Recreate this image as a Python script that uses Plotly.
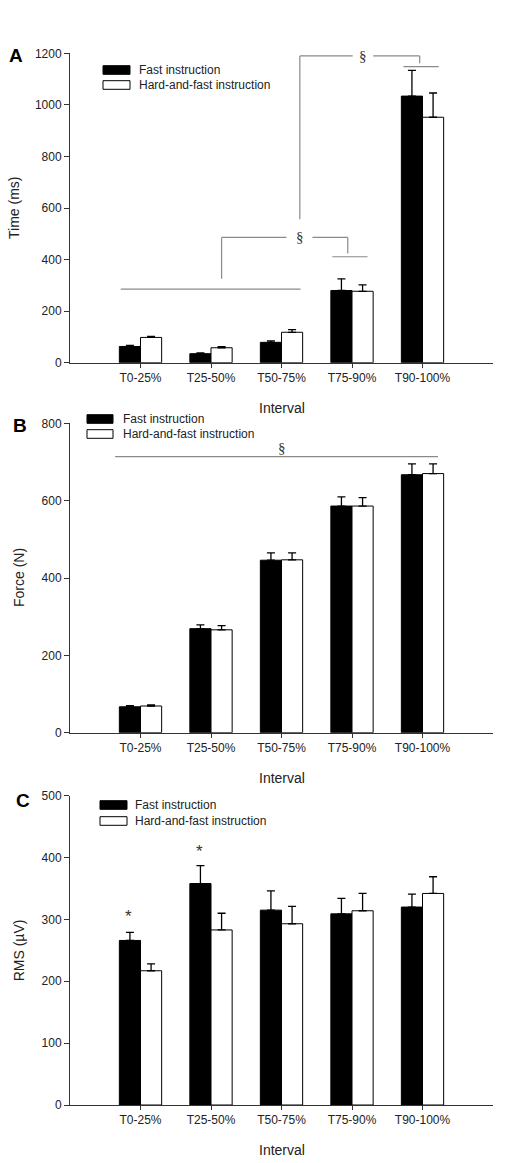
import plotly.graph_objects as go

# ---------------- data ----------------
categories = ["T0-25%", "T25-50%", "T50-75%", "T75-90%", "T90-100%"]
series_names = ["Fast instruction", "Hard-and-fast instruction"]

time_fast = [63, 35, 79, 280, 1034]
time_fast_err = [4, 3, 6, 45, 100]
time_hf = [98, 58, 118, 277, 952]
time_hf_err = [4, 4, 10, 25, 94]

force_fast = [67, 269, 446, 586, 667]
force_fast_err = [3, 10, 19, 24, 28]
force_hf = [69, 266, 447, 586, 670]
force_hf_err = [3, 11, 18, 22, 25]

rms_fast = [266, 358, 315, 309, 320]
rms_fast_err = [13, 29, 31, 25, 21]
rms_hf = [217, 283, 293, 314, 342]
rms_hf_err = [11, 27, 28, 28, 27]

panel_letters = ["A", "B", "C"]
y_titles = ["Time (ms)", "Force (N)", "RMS (µV)"]
x_title = "Interval"
y_ranges = [[0, 1200], [0, 800], [0, 500]]
y_dticks = [200, 200, 100]

W, H = 529, 1163
FONT = "Arial, Liberation Sans, sans-serif"
SERIF = "Times New Roman, Liberation Serif, serif"
AX = "#333333"
GRAY = "#8a8a8a"


def px(x):
    return x / W


def py(y):
    return 1 - y / H


# plot areas in pixels (top, bottom)
areas = [(53.3, 362.7), (423.3, 732.7), (795.7, 1105.0)]
x_left, x_right = 70, 493

fig = go.Figure()

panels = [
    (time_fast, time_fast_err, time_hf, time_hf_err),
    (force_fast, force_fast_err, force_hf, force_hf_err),
    (rms_fast, rms_fast_err, rms_hf, rms_hf_err),
]

for i, (f, fe, h, he) in enumerate(panels):
    xa = "x" if i == 0 else f"x{i+1}"
    ya = "y" if i == 0 else f"y{i+1}"
    fig.add_trace(go.Bar(
        x=categories, y=f, name=series_names[0], xaxis=xa, yaxis=ya,
        marker=dict(color="black", line=dict(color="black", width=1)),
        error_y=dict(type="data", symmetric=False, array=fe, arrayminus=[0] * len(fe),
                     color="black", thickness=1.3, width=4),
        showlegend=False, offsetgroup="a",
    ))
    fig.add_trace(go.Bar(
        x=categories, y=h, name=series_names[1], xaxis=xa, yaxis=ya,
        marker=dict(color="white", line=dict(color="black", width=1)),
        error_y=dict(type="data", symmetric=False, array=he, arrayminus=[0] * len(he),
                     color="black", thickness=1.3, width=4),
        showlegend=False, offsetgroup="b",
    ))

layout = dict(
    template="none",
    width=W, height=H,
    margin=dict(l=0, r=0, t=0, b=0, pad=0),
    paper_bgcolor="white", plot_bgcolor="white",
    barmode="group", bargap=0.4, bargroupgap=0,
    font=dict(family=FONT, size=12, color="#222222"),
    showlegend=False,
)

annotations = []
shapes = []

for i in range(3):
    top, bot = areas[i]
    xk = "xaxis" if i == 0 else f"xaxis{i+1}"
    yk = "yaxis" if i == 0 else f"yaxis{i+1}"
    yname = "y" if i == 0 else f"y{i+1}"
    xname = "x" if i == 0 else f"x{i+1}"
    layout[xk] = dict(
        domain=[px(x_left), px(x_right)], anchor=yname, automargin=False,
        type="category", categoryorder="array", categoryarray=categories,
        range=[-1, 5], showline=True, linecolor=AX, linewidth=1,
        ticks="outside", ticklen=4, tickcolor=AX, showgrid=False, zeroline=False,
        tickfont=dict(size=12, color="#222222"),
    )
    layout[yk] = dict(
        domain=[py(bot), py(top)], anchor=xname, automargin=False,
        range=y_ranges[i], dtick=y_dticks[i], tick0=0,
        showline=True, linecolor=AX, linewidth=1,
        ticks="outside", ticklen=5, tickcolor=AX, showgrid=False, zeroline=False,
        tickfont=dict(size=12, color="#222222"),
    )
    # x title
    annotations.append(dict(x=px((x_left + x_right) / 2), y=py(bot + 45),
                            xref="paper", yref="paper", text=x_title, showarrow=False,
                            font=dict(size=14, color="#222222"), xanchor="center", yanchor="middle"))
    # y title
    annotations.append(dict(x=px(14 if i == 0 else 19), y=py((top + bot) / 2),
                            xref="paper", yref="paper", text=y_titles[i], showarrow=False,
                            textangle=-90, font=dict(size=14, color="#222222"),
                            xanchor="center", yanchor="middle"))
    # panel letter
    letter_pos = [(16, 55), (20, 425), (23, 800)][i]
    annotations.append(dict(x=px(letter_pos[0]), y=py(letter_pos[1]), xref="paper", yref="paper",
                            text=f"<b>{panel_letters[i]}</b>", showarrow=False,
                            font=dict(size=19, color="black"), xanchor="center", yanchor="middle"))

# manual legends (box x0, x1, row centers, text x)
legend_specs = [
    (103, 130, 70, 85, 137),
    (87, 113, 419, 434, 121),
    (100, 127, 805, 821, 133),
]
for (bx0, bx1, r1, r2, tx) in legend_specs:
    for rc, fill, name in ((r1, "black", series_names[0]), (r2, "white", series_names[1])):
        shapes.append(dict(type="rect", xref="paper", yref="paper",
                           x0=px(bx0), x1=px(bx1), y0=py(rc + 4.3), y1=py(rc - 4.3),
                           fillcolor=fill, line=dict(color="black", width=1)))
        annotations.append(dict(x=px(tx), y=py(rc), xref="paper", yref="paper", text=name,
                                showarrow=False, xanchor="left", yanchor="middle",
                                font=dict(size=12, color="#222222")))


def seg(xr, yr, x0, y0, x1, y1):
    shapes.append(dict(type="line", xref=xr, yref=yr, x0=x0, y0=y0, x1=x1, y1=y1,
                       line=dict(color=GRAY, width=1.2)))


# Panel A brackets
seg("x", "y", -0.28, 285, 2.27, 285)
seg("x", "y", 1.15, 326, 1.15, 486)
seg("x", "y", 1.15, 486, 2.07, 486)
seg("x", "y", 2.44, 486, 2.94, 486)
seg("x", "y", 2.94, 486, 2.94, 424)
seg("x", "y", 2.72, 411, 3.22, 411)
annotations.append(dict(x=2.26, y=486, xref="x", yref="y", text="§", showarrow=False,
                        font=dict(family=SERIF, size=15, color="#333333")))

seg("x", "y", 2.26, 556, 2.26, 1190)
seg("x", "y", 2.26, 1190, 3.01, 1190)
seg("x", "y", 3.30, 1190, 3.96, 1190)
seg("x", "y", 3.96, 1190, 3.96, 1161)
seg("x", "y", 3.73, 1148, 4.23, 1148)
annotations.append(dict(x=3.16, y=1190, xref="x", yref="y", text="§", showarrow=False,
                        font=dict(family=SERIF, size=15, color="#333333")))

# Panel B line
seg("x2", "y2", -0.36, 714, 4.22, 714)
annotations.append(dict(x=2.0, y=737, xref="x2", yref="y2", text="§", showarrow=False,
                        font=dict(family=SERIF, size=15, color="#333333")))

# Panel C asterisks
annotations.append(dict(x=-0.17, y=305, xref="x3", yref="y3", text="*", showarrow=False,
                        font=dict(size=17, color="#333333")))
annotations.append(dict(x=0.84, y=410, xref="x3", yref="y3", text="*", showarrow=False,
                        font=dict(size=17, color="#333333")))

layout["annotations"] = annotations
layout["shapes"] = shapes
fig.update_layout(**layout)

fig.write_html(
    "out.html",
    config={"displayModeBar": False},
    post_script="document.body.style.margin='0';document.body.style.overflow='hidden';",
)
